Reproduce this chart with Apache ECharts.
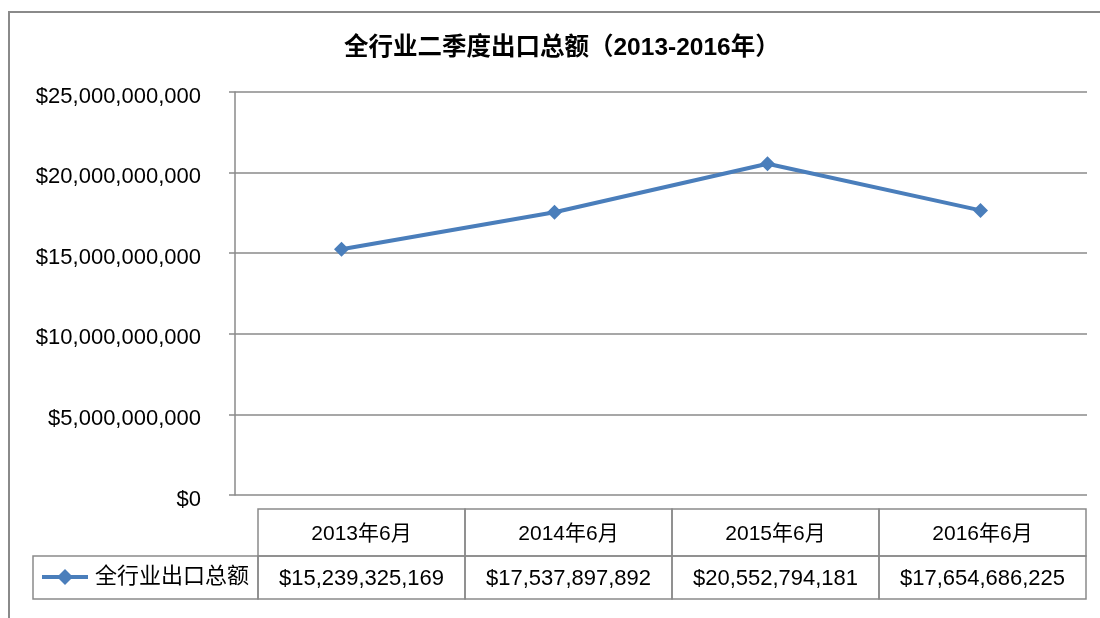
<!DOCTYPE html>
<html><head><meta charset="utf-8">
<script src="https://cdn.jsdelivr.net/npm/echarts@6/dist/echarts.min.js"></script>
<style>html,body{margin:0;padding:0;background:#fff}#c{width:1100px;height:618px}</style>
</head><body><div id="c"></div>
<script>
const titleText = '全行业二季度出口总额（2013-2016年）';
const categories = ['2013年6月', '2014年6月', '2015年6月', '2016年6月'];
const seriesName = '全行业出口总额';
const exportTotals = [15239325169, 17537897892, 20552794181, 17654686225];
const yMin = 0, yMax = 25000000000, yStep = 5000000000;

const FONT = "'Liberation Sans','Noto Sans CJK SC',sans-serif";
const GRAY = '#8a8a8a';
const BLUE = '#4a7ebb';

function money(v) { return '$' + String(Math.round(v)).replace(/\B(?=(\d{3})+(?!\d))/g, ','); }

// data table layout (below plot)
const tbl = { left: 258, colW: 207, top: 509, headH: 47, rowH: 43, legendLeft: 33 };
const graphic = [];
graphic.push({ type: 'polyline', shape: { points: [[9, 618], [9, 12], [1100, 12]] }, style: { stroke: GRAY, lineWidth: 2, fill: null }, silent: true });
categories.forEach((c, i) => {
  const x = tbl.left + i * tbl.colW;
  graphic.push({ type: 'rect', shape: { x: x, y: tbl.top, width: tbl.colW, height: tbl.headH }, style: { fill: null, stroke: GRAY, lineWidth: 1.5 } });
  graphic.push({ type: 'rect', shape: { x: x, y: tbl.top + tbl.headH, width: tbl.colW, height: tbl.rowH }, style: { fill: null, stroke: GRAY, lineWidth: 1.5 } });
  graphic.push({ type: 'text', x: x + tbl.colW / 2, y: tbl.top + tbl.headH / 2 + 2, style: { text: c, fill: '#000', font: '21px ' + FONT, align: 'center', verticalAlign: 'middle' } });
  graphic.push({ type: 'text', x: x + tbl.colW / 2, y: tbl.top + tbl.headH + tbl.rowH / 2 + 1, style: { text: money(exportTotals[i]), fill: '#000', font: '22px ' + FONT, align: 'center', verticalAlign: 'middle' } });
});
graphic.push({ type: 'rect', shape: { x: tbl.legendLeft, y: tbl.top + tbl.headH, width: tbl.left - tbl.legendLeft, height: tbl.rowH }, style: { fill: null, stroke: GRAY, lineWidth: 1.5 } });

const chart = echarts.init(document.getElementById('c'), null, { renderer: 'canvas' });
chart.setOption({
  animation: false,
  backgroundColor: '#fff',
  title: {
    text: titleText, left: 339, top: 31,
    textStyle: { fontFamily: FONT, fontSize: 24.5, fontWeight: 'bold', color: '#000' }
  },
  legend: {
    data: [seriesName], left: 40, top: 566, padding: 0, itemWidth: 46, itemHeight: 20, itemGap: 0,
    lineStyle: { width: 4 },
    textStyle: { fontFamily: FONT, fontSize: 22, color: '#000', padding: [0, 0, 0, 2] }
  },
  grid: { left: 235, top: 92, width: 852, height: 403, containLabel: false },
  xAxis: {
    type: 'category', data: categories, boundaryGap: true,
    axisLine: { show: false }, axisTick: { show: false }, axisLabel: { show: false }
  },
  yAxis: {
    type: 'value', min: yMin, max: yMax, interval: yStep,
    axisLine: { show: true, lineStyle: { color: GRAY, width: 1.5 } },
    axisTick: { show: true, length: 6, lineStyle: { color: GRAY, width: 1.5 } },
    splitLine: { show: true, lineStyle: { color: GRAY, width: 1.5 } },
    axisLabel: {
      margin: 34, formatter: v => '{a|' + money(v) + '}',
      rich: { a: { fontFamily: FONT, fontSize: 22, color: '#000', padding: [9, 0, 0, 0] } }
    }
  },
  series: [{
    name: seriesName, type: 'line', data: exportTotals,
    symbol: 'diamond', symbolSize: 15,
    lineStyle: { color: BLUE, width: 4 },
    itemStyle: { color: BLUE }
  }],
  graphic: graphic
});
</script></body></html>
